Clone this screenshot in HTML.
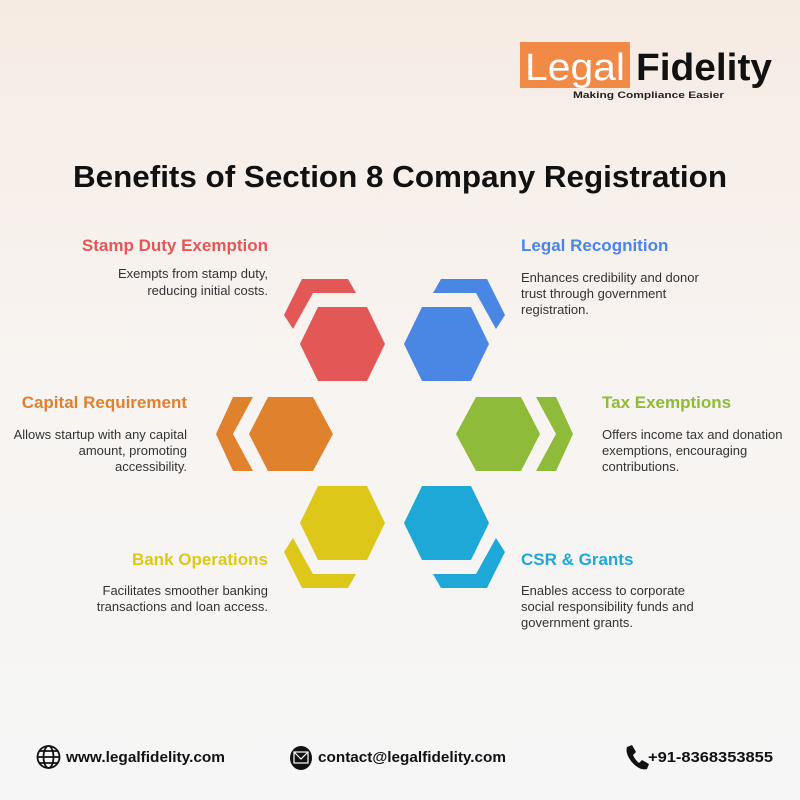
<!DOCTYPE html>
<html><head><meta charset="utf-8"><style>
html,body{margin:0;padding:0}
body{width:800px;height:800px;background:linear-gradient(#f6ebe3,#f8f4f1 45%,#f6f6f6);font-family:"Liberation Sans",sans-serif}
svg{display:block}
text{font-family:"Liberation Sans",sans-serif}
.h{font-weight:bold;font-size:17px}
.b{font-size:13px;fill:#333}
</style></head><body>
<svg width="800" height="800" viewBox="0 0 800 800">
<!-- logo -->
<rect x="520" y="42" width="110" height="46" fill="#f08a46"/>
<text x="525" y="80" font-size="38" fill="#fff" textLength="100" lengthAdjust="spacingAndGlyphs">Legal</text>
<text x="636" y="80" font-size="38" font-weight="bold" fill="#111" textLength="136" lengthAdjust="spacingAndGlyphs">Fidelity</text>
<text x="573" y="98" font-size="9.5" font-weight="bold" fill="#222" textLength="151" lengthAdjust="spacingAndGlyphs">Making Compliance Easier</text>
<!-- title -->
<text x="73" y="187" font-size="31" font-weight="bold" fill="#111" textLength="654" lengthAdjust="spacingAndGlyphs">Benefits of Section 8 Company Registration</text>

<!-- shapes -->
<polygon fill="#e35757" points="318,307 367,307 385,344 367,381 318,381 300,344"/>
<polygon fill="#e35757" points="302,279 348,279 356,293 313,293 293,329 284,315"/>
<polygon fill="#4a86e4" points="422,307 471,307 489,344 471,381 422,381 404,344"/>
<polygon fill="#4a86e4" points="487,279 441,279 433,293 476,293 496,329 505,315"/>
<polygon fill="#e0812e" points="268,397 313,397 333,434 313,471 268,471 249,434"/>
<polygon fill="#e0812e" points="233,397 253,397 233,434 253,471 233,471 216,434"/>
<polygon fill="#8fbb3a" points="476,397 521,397 540,434 521,471 476,471 456,434"/>
<polygon fill="#8fbb3a" points="556,397 536,397 556,434 536,471 556,471 573,434"/>
<polygon fill="#ddc81a" points="318,486 367,486 385,523 367,560 318,560 300,523"/>
<polygon fill="#ddc81a" points="302,588 348,588 356,574 313,574 293,538 284,552"/>
<polygon fill="#1ea8d8" points="422,486 471,486 489,523 471,560 422,560 404,523"/>
<polygon fill="#1ea8d8" points="487,588 441,588 433,574 476,574 496,538 505,552"/>

<!-- left texts -->
<g text-anchor="end">
<text class="h" x="268" y="251" fill="#e35757">Stamp Duty Exemption</text>
<text class="b" x="268" y="278">Exempts from stamp duty,</text>
<text class="b" x="268" y="295">reducing initial costs.</text>
<text class="h" x="187" y="408" fill="#e0812e">Capital Requirement</text>
<text class="b" x="187" y="439">Allows startup with any capital</text>
<text class="b" x="187" y="455">amount, promoting</text>
<text class="b" x="187" y="471">accessibility.</text>
<text class="h" x="268" y="565" fill="#ddc81a">Bank Operations</text>
<text class="b" x="268" y="595">Facilitates smoother banking</text>
<text class="b" x="268" y="611">transactions and loan access.</text>
</g>
<!-- right texts -->
<text class="h" x="521" y="251" fill="#4a86e4">Legal Recognition</text>
<text class="b" x="521" y="282">Enhances credibility and donor</text>
<text class="b" x="521" y="298">trust through government</text>
<text class="b" x="521" y="314">registration.</text>
<text class="h" x="602" y="408" fill="#8fbb3a">Tax Exemptions</text>
<text class="b" x="602" y="439">Offers income tax and donation</text>
<text class="b" x="602" y="455">exemptions, encouraging</text>
<text class="b" x="602" y="471">contributions.</text>
<text class="h" x="521" y="565" fill="#1ea8d8">CSR &amp; Grants</text>
<text class="b" x="521" y="595">Enables access to corporate</text>
<text class="b" x="521" y="611">social responsibility funds and</text>
<text class="b" x="521" y="627">government grants.</text>

<!-- footer -->
<g fill="none" stroke="#111" stroke-width="1.8">
<circle cx="48.5" cy="757" r="11"/>
<ellipse cx="48.5" cy="757" rx="5" ry="11"/>
<line x1="37.5" y1="757" x2="59.5" y2="757"/>
<line x1="39" y1="751" x2="58" y2="751"/>
<line x1="39" y1="763" x2="58" y2="763"/>
</g>
<text x="66" y="762" font-size="15" font-weight="bold" fill="#111" textLength="159" lengthAdjust="spacingAndGlyphs">www.legalfidelity.com</text>
<ellipse cx="301" cy="758" rx="11" ry="12" fill="#111"/>
<rect x="294" y="752" width="14" height="11" fill="none" stroke="#fff" stroke-width="1.2"/>
<polyline points="294,752 301,759 308,752" fill="none" stroke="#fff" stroke-width="1.2"/>
<text x="318" y="762" font-size="15" font-weight="bold" fill="#111" textLength="188" lengthAdjust="spacingAndGlyphs">contact@legalfidelity.com</text>
<path d="M627,747 l5,-2 l4,7 l-3,3 q2,5 6,8 l3,-3 l7,4 l-2,5 q-8,2 -16,-8 q-6,-8 -4,-14z" fill="#111"/>
<text x="648" y="762" font-size="15" font-weight="bold" fill="#111" textLength="125" lengthAdjust="spacingAndGlyphs">+91-8368353855</text>
</svg>
</body></html>
